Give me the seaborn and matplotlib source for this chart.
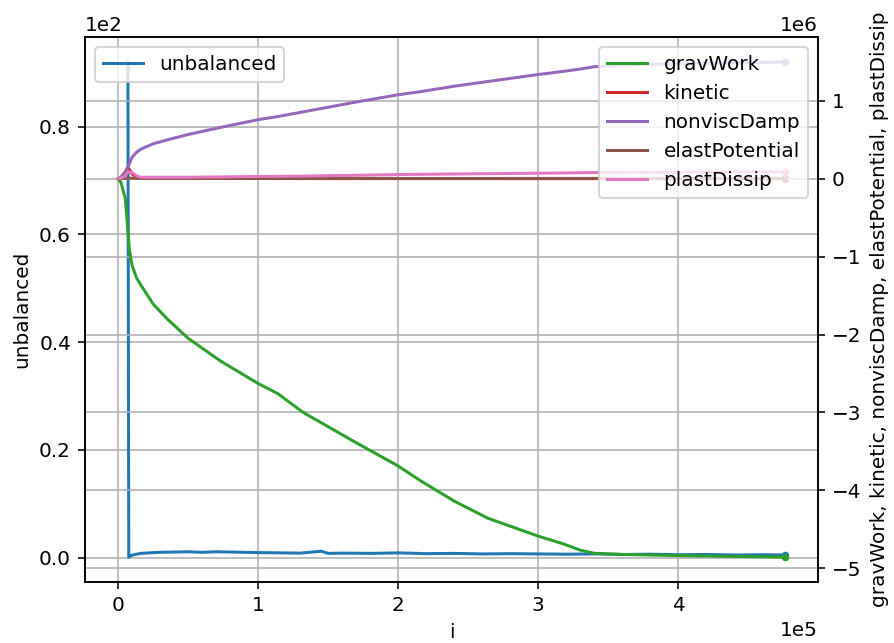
import matplotlib

matplotlib.use("Agg")
import matplotlib.pyplot as plt
import seaborn as sns

# iteration numbers for the energy records
i_energy = [0, 2000, 5000, 6500, 8000, 10000, 13000, 16000, 25000, 35000,
            50000, 73000, 100000, 114000, 132000, 168000, 200000, 216000,
            240000, 264000, 300000, 318000, 330000, 340000, 360000, 400000,
            440000, 476000]

# energies, in units of 1e6
grav_work = [0, -0.05, -0.25, -0.58, -0.92, -1.12, -1.27, -1.36, -1.61, -1.80,
             -2.05, -2.34, -2.63, -2.76, -3.00, -3.37, -3.69, -3.88,
             -4.14, -4.36, -4.59, -4.69, -4.77, -4.81, -4.825, -4.84,
             -4.85, -4.86]
kinetic = [0, 0.02, 0.09, 0.14, 0.12, 0.06, 0.02, 0.01, 0.006, 0.005,
           0.005, 0.004, 0.004, 0.004, 0.003, 0.003, 0.003, 0.003,
           0.003, 0.003, 0.002, 0.002, 0.002, 0.002, 0.002, 0.002,
           0.002, 0.002]
nonvisc_damp = [0, 0.02, 0.07, 0.12, 0.20, 0.28, 0.34, 0.38, 0.45, 0.50,
                0.57, 0.66, 0.76, 0.80, 0.86, 0.98, 1.08, 1.12,
                1.19, 1.25, 1.34, 1.38, 1.41, 1.44, 1.46, 1.48,
                1.49, 1.50]
elast_potential = [0, 0.002, 0.005, 0.008, 0.008, 0.007, 0.006, 0.006, 0.005, 0.005,
                   0.005, 0.005, 0.005, 0.005, 0.005, 0.005, 0.005, 0.005,
                   0.005, 0.005, 0.005, 0.005, 0.005, 0.005, 0.005, 0.005,
                   0.005, 0.005]
plast_dissip = [0, 0.01, 0.04, 0.08, 0.09, 0.08, 0.04, 0.02, 0.02, 0.02,
                0.02, 0.025, 0.03, 0.032, 0.035, 0.045, 0.055, 0.058,
                0.062, 0.066, 0.072, 0.075, 0.078, 0.08, 0.082, 0.085,
                0.088, 0.09]

# unbalanced force records
i_unbalanced = [6900, 7500, 9000, 12000, 16000, 22000, 30000, 40000, 50000,
                60000, 70000, 80000, 90000, 100000, 115000, 130000, 145000,
                150000, 160000, 180000, 200000, 220000, 240000, 260000, 280000,
                300000, 320000, 340000, 360000, 380000, 400000, 420000, 440000,
                460000, 476000]
unbalanced = [92, 0.1, 0.4, 0.6, 0.8, 0.9, 1.0, 1.05, 1.1,
              1.0, 1.1, 1.05, 1.0, 0.95, 0.9, 0.85, 1.2,
              0.8, 0.85, 0.8, 0.9, 0.75, 0.8, 0.7, 0.75,
              0.7, 0.65, 0.7, 0.6, 0.65, 0.55, 0.6, 0.5,
              0.55, 0.5]

energy_series = [
    ("gravWork", grav_work, "#2ca02c"),
    ("kinetic", kinetic, "#d62728"),
    ("nonviscDamp", nonvisc_damp, "#9467bd"),
    ("elastPotential", elast_potential, "#8c564b"),
    ("plastDissip", plast_dissip, "#e377c2"),
]

fig, ax1 = plt.subplots(figsize=(894 / 144, 643 / 144), dpi=144)
fig.subplots_adjust(left=0.095, right=0.915, bottom=0.095, top=0.942)

sns.lineplot(x=i_unbalanced, y=unbalanced, ax=ax1, color="#1f77b4",
             label="unbalanced", linewidth=1.5)
sns.scatterplot(x=i_unbalanced[-1:], y=unbalanced[-1:], ax=ax1,
                color="#1f77b4", s=14, linewidth=0, legend=False)
ax1.set_xlabel("i")
ax1.set_ylabel("unbalanced")
ax1.grid(True)
ax1.ticklabel_format(axis="x", style="sci", scilimits=(0, 0))
ax1.ticklabel_format(axis="y", style="sci", scilimits=(2, 2))
ax1.legend(loc="upper left")

ax2 = ax1.twinx()
for name, values, color in energy_series:
    scaled = [v * 1e6 for v in values]
    sns.lineplot(x=i_energy, y=scaled, ax=ax2, color=color, label=name,
                 linewidth=1.5)
    sns.scatterplot(x=i_energy[-1:], y=scaled[-1:], ax=ax2, color=color,
                    s=14, linewidth=0, legend=False)
ax2.set_ylabel("gravWork, kinetic, nonviscDamp, elastPotential, plastDissip")
ax2.grid(True)
ax2.ticklabel_format(axis="y", style="sci", scilimits=(0, 0))
ax2.legend(loc="upper right")

plt.savefig("out.png", dpi=144)
plt.close()
